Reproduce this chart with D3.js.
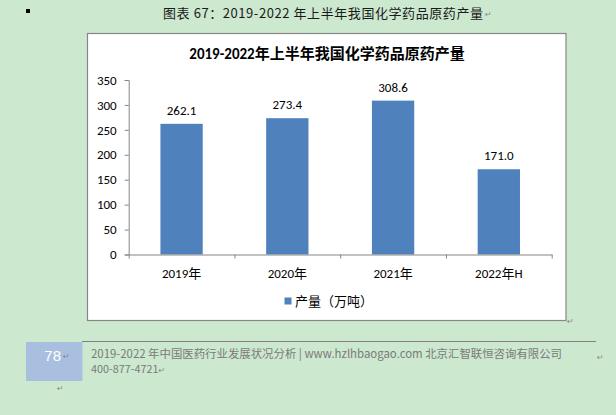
<!DOCTYPE html>
<html><head><meta charset="utf-8">
<script src="https://cdn.jsdelivr.net/npm/d3@7"></script>
<style>
html,body{margin:0;padding:0;background:#cce8cf;}
svg{display:block;}
text{font-family:Carlito,"Liberation Sans","Noto Sans CJK SC",sans-serif;white-space:pre;}
</style></head>
<body>
<script>
const categories = ["2019年","2020年","2021年","2022年H"];
const values = [262.1, 273.4, 308.6, 171.0];
const yTicks = [0,50,100,150,200,250,300,350];
const seriesName = "产量（万吨）";
const chartTitle = "2019-2022年上半年我国化学药品原药产量";
const heading = "图表 67：2019-2022 年上半年我国化学药品原药产量";
const footerLine1 = "2019-2022 年中国医药行业发展状况分析 | www.hzlhbaogao.com 北京汇智联恒咨询有限公司";
const footerLine2 = "400-877-4721";
const pageNo = "78";

const W = 616, H = 415;
const svg = d3.select("body").append("svg").attr("width", W).attr("height", H);
svg.append("rect").attr("width", W).attr("height", H).attr("fill", "#cce8cf");

function mark(xp, yp) {
  svg.append("text").attr("x", xp).attr("y", yp).attr("font-size", 8).attr("fill", "#888")
    .style("font-family","'DejaVu Sans'").text("↵");
}

// bullet + heading
svg.append("rect").attr("x", 26).attr("y", 9).attr("width", 4).attr("height", 4).attr("fill", "#000");
svg.append("text").attr("x", 163).attr("y", 17.5)
  .attr("font-size", 13).attr("fill", "#1a1a1a")
  .attr("textLength", 320).attr("lengthAdjust", "spacing")
  .style("font-family", "'Noto Sans CJK SC',sans-serif").text(heading);
mark(485, 17);

// chart box
svg.append("rect").attr("x", 87.5).attr("y", 33.5).attr("width", 478.5).attr("height", 287)
  .attr("fill", "#fff").attr("stroke", "#868686").attr("stroke-width", 1.2);
mark(567, 324);

// title
svg.append("text").attr("x", 327).attr("y", 59).attr("text-anchor", "middle")
  .attr("font-size", 15).attr("font-weight", "bold").attr("fill", "#000").text(chartTitle);

const x0 = 128.7, x1 = 551.7;
const x = d3.scaleBand().domain(categories).range([x0, x1]).paddingInner(0.6).paddingOuter(0.3);
const y = d3.scaleLinear().domain([0, 350]).range([254.5, 80]);

// y axis
const yAxis = svg.append("g").attr("transform", `translate(${x0},0)`)
  .call(d3.axisLeft(y).tickValues(yTicks).tickSize(4).tickPadding(8));
yAxis.select(".domain").attr("stroke", "#868686");
yAxis.selectAll(".tick line").attr("stroke", "#868686");
yAxis.selectAll(".tick text").attr("font-size", 13).attr("fill", "#000")
  .style("font-family","Carlito,'Liberation Sans',sans-serif");

// bars
svg.append("g").selectAll("rect").data(values).join("rect")
  .attr("x", (d,i) => x(categories[i])).attr("width", x.bandwidth())
  .attr("y", d => y(d)).attr("height", d => y(0) - y(d)).attr("fill", "#4f81bd");

// x axis
const xb = d3.scaleLinear().domain([0, categories.length]).range([x0, x1]);
const xAxis = svg.append("g").attr("transform", `translate(0,${y(0)})`)
  .call(d3.axisBottom(xb).tickValues(d3.range(categories.length + 1)).tickFormat("").tickSize(4).tickSizeOuter(0));
xAxis.select(".domain").attr("stroke", "#868686");
xAxis.selectAll(".tick line").attr("stroke", "#868686");
svg.append("g").selectAll("text").data(categories).join("text")
  .attr("x", d => x(d) + x.bandwidth()/2).attr("y", y(0) + 23.5)
  .attr("text-anchor", "middle").attr("font-size", 13).attr("fill", "#000").text(d => d);

// data labels
svg.append("g").selectAll("text").data(values).join("text")
  .attr("x", (d,i) => x(categories[i]) + x.bandwidth()/2).attr("y", d => y(d) - 9)
  .attr("text-anchor", "middle").attr("font-size", 13).attr("fill", "#000")
  .text(d => d3.format(".1f")(d));

// legend
svg.append("rect").attr("x", 284.5).attr("y", 297.5).attr("width", 7).attr("height", 7).attr("fill", "#4f81bd");
svg.append("text").attr("x", 295).attr("y", 305.5).attr("font-size", 13).attr("fill", "#000")
  .style("font-family","'Noto Sans CJK SC',sans-serif").text(seriesName);

// footer
svg.append("line").attr("x1", 82).attr("x2", 596).attr("y1", 341.5).attr("y2", 341.5)
  .attr("stroke", "#808080").attr("stroke-width", 1);
svg.append("rect").attr("x", 26).attr("y", 342).attr("width", 56.5).attr("height", 39).attr("fill", "#a9bfe0");
svg.append("text").attr("x", 61).attr("y", 361).attr("text-anchor", "end").attr("font-size", 15)
  .attr("fill", "#fff").style("font-family","'Liberation Sans',sans-serif").text(pageNo);
mark(63, 359);
mark(57, 391);
svg.append("text").attr("x", 91).attr("y", 357.5).attr("font-size", 11.5).attr("fill", "#7a7a7a")
  .attr("textLength", 471).attr("lengthAdjust", "spacingAndGlyphs")
  .style("font-family","'Noto Sans CJK SC',sans-serif").text(footerLine1);
const f2 = svg.append("text").attr("x", 91).attr("y", 373).attr("font-size", 10.8).attr("fill", "#7a7a7a")
  .style("font-family","'Noto Sans CJK SC',sans-serif");
f2.append("tspan").text(footerLine2);
f2.append("tspan").attr("font-size", 8).attr("fill", "#888").style("font-family","'DejaVu Sans'").text("↵");
mark(597, 360);
</script>
</body></html>
